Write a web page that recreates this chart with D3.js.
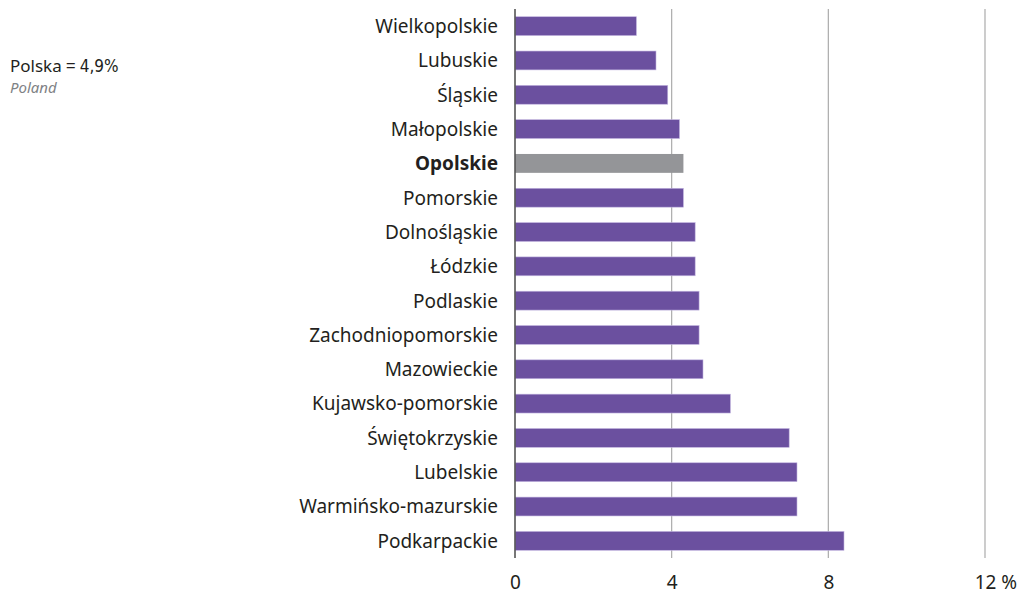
<!DOCTYPE html>
<html>
<head>
<meta charset="utf-8">
<script src="https://cdn.jsdelivr.net/npm/d3@7"></script>
<style>
  body { margin: 0; background: #fff; }
  svg { display: block; font-family: "Noto Sans", sans-serif; }
</style>
</head>
<body>
<div id="chart"></div>
<script>
// regions, top to bottom
var regions = ["Wielkopolskie", "Lubuskie", "Śląskie", "Małopolskie", "Opolskie",
    "Pomorskie", "Dolnośląskie", "Łódzkie", "Podlaskie", "Zachodniopomorskie",
    "Mazowieckie", "Kujawsko-pomorskie", "Świętokrzyskie", "Lubelskie",
    "Warmińsko-mazurskie", "Podkarpackie"];
var rates = [3.1, 3.6, 3.9, 4.2, 4.3, 4.3, 4.6, 4.6, 4.7, 4.7, 4.8, 5.5, 7.0, 7.2, 7.2, 8.4];
var xTicks = [0, 4, 8, 12];
var highlight = "Opolskie";
var polandValue = "4,9%";

var width = 1020, height = 593;
var font = "'Noto Sans', sans-serif";
var svg = d3.select("#chart").append("svg")
    .attr("width", width)
    .attr("height", height);

var data = regions.map(function (r, i) { return { region: r, value: rates[i] }; });

var x = d3.scaleLinear().domain([0, 12]).range([515, 985]);
var y = d3.scaleBand().domain(regions).range([9, 558])
    .paddingInner(0.45).paddingOuter(0.225);

// gridlines
svg.append("g")
    .selectAll("line")
    .data(xTicks.slice(1))
    .enter().append("line")
    .attr("x1", function (d) { return x(d); })
    .attr("x2", function (d) { return x(d); })
    .attr("y1", 9)
    .attr("y2", 558)
    .attr("stroke", "#ababab")
    .attr("stroke-width", 1.2);

// bars
svg.append("g")
    .selectAll("rect")
    .data(data)
    .enter().append("rect")
    .attr("x", x(0))
    .attr("y", function (d) { return y(d.region); })
    .attr("width", function (d) { return x(d.value) - x(0); })
    .attr("height", y.bandwidth())
    .attr("fill", function (d) { return d.region === highlight ? "#949598" : "#6b509f"; })
    .attr("stroke", function (d) { return d.region === highlight ? "none" : "#c3b6e0"; })
    .attr("stroke-width", 0.6);

// zero axis line
svg.append("line")
    .attr("x1", x(0)).attr("x2", x(0))
    .attr("y1", 9).attr("y2", 558)
    .attr("stroke", "#555")
    .attr("stroke-width", 1.6);

// category labels
var yAxis = svg.append("g")
    .attr("transform", "translate(" + (x(0) - 17) + ",0)")
    .call(d3.axisLeft(y).tickSize(0).tickPadding(0));
yAxis.attr("font-family", null).attr("font-size", null);
yAxis.select(".domain").remove();
yAxis.selectAll("text")
    .style("font-family", font)
    .style("font-size", "19px")
    .style("fill", "#231f20")
    .style("font-weight", function (d) { return d === highlight ? "bold" : "normal"; })
    .attr("dy", "0.36em");

// x tick labels
var xAxis = svg.append("g")
    .attr("transform", "translate(0,575)")
    .call(d3.axisBottom(x).tickValues(xTicks).tickSize(0).tickPadding(0)
        .tickFormat(function (d) { return d; }));
xAxis.attr("font-family", null).attr("font-size", null);
xAxis.select(".domain").remove();
xAxis.selectAll("text")
    .style("font-family", font)
    .style("font-size", "19px")
    .style("fill", "#231f20")
    .attr("dy", "0.71em");
xAxis.selectAll(".tick").filter(function (d) { return d === 12; })
    .select("text")
    .each(function () {
        var t = d3.select(this);
        var w = this.getComputedTextLength();
        t.attr("text-anchor", "start").attr("x", -w / 2);
        t.append("tspan").text(" %");
    });

// Poland note
var note = svg.append("text")
    .attr("x", 10)
    .attr("y", 72)
    .style("fill", "#231f20");
note.append("tspan").style("font-size", "17px").text("Polska");
note.append("tspan").attr("dx", 4).style("font-size", "17.5px").text("=");
note.append("tspan").attr("dx", 4)
    .style("font-size", "17px")
    .style("font-family", "'Liberation Sans Narrow', 'DejaVu Sans Condensed', sans-serif")
    .text(polandValue);

svg.append("text")
    .attr("x", 10)
    .attr("y", 93)
    .style("font-size", "15px")
    .style("font-style", "italic")
    .style("fill", "#808285")
    .text("Poland");
</script>
</body>
</html>
